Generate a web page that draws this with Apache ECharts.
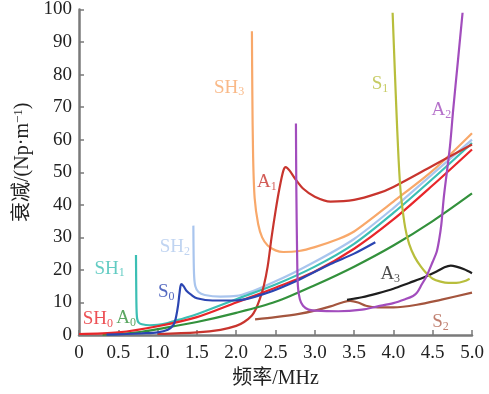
<!DOCTYPE html>
<html>
<head>
<meta charset="utf-8">
<script src="https://cdn.jsdelivr.net/npm/echarts@6/dist/echarts.min.js"></script>
<style>html,body{margin:0;padding:0;background:#fff}#c{width:489px;height:394px}</style>
</head>
<body>
<div id="c"></div>
<script>
// Frequency (MHz) / attenuation (Np/m) pairs for each guided-wave mode
var SH0 = [[0,0.3],[0.5,0.8],[1.0,2.7],[1.5,5.5],[2.0,10],[2.5,14.5],[3.0,19.5],[3.5,26.5],[4.0,35.5],[4.5,46],[5.0,57]];
var SH1 = [[0.725,24.6],[0.728,15],[0.732,8],[0.74,5],[0.76,3.8],[0.8,3.3],[0.9,3.0],[1.0,3.1],[1.1,3.5],[1.2,4.2],[1.4,5.6],[1.6,7.3],[2.0,11],[2.5,15.5],[3.0,21],[3.5,28],[4.0,37.5],[4.5,48],[5.0,59]];
var SH2 = [[1.455,33.6],[1.458,25],[1.465,18],[1.48,15],[1.52,13.2],[1.6,12.3],[1.8,11.8],[2.0,12],[2.5,16.5],[3.0,22.5],[3.5,29.5],[4.0,39],[4.5,49.5],[5.0,60]];
var SH3 = [[2.2,93.3],[2.205,75],[2.215,55],[2.235,42],[2.28,34],[2.33,30],[2.4,27.5],[2.5,26],[2.6,25.5],[2.8,25.8],[3.0,27],[3.3,29.5],[3.5,31.8],[4.0,41],[4.5,50.5],[5.0,62]];
var S0 = [[0.35,0.1],[0.6,0.3],[0.8,0.5],[1.0,0.8],[1.13,1.6],[1.2,3],[1.23,5],[1.26,9],[1.28,13],[1.3,15.6],[1.33,15],[1.37,13.5],[1.43,12.3],[1.5,11.3],[1.7,10.6],[2.0,10.6],[2.4,13],[2.8,17],[3.2,21.8],[3.5,25],[3.77,28.5]];
var A0 = [[0.3,0.1],[0.5,0.3],[0.8,1],[1.0,1.8],[1.5,4],[2.0,6.8],[2.5,10.2],[3.0,15.3],[3.5,21],[4.0,27.5],[4.5,35],[5.0,43.5]];
var A1 = [[1.0,0.3],[1.5,0.8],[1.8,1.6],[2.0,2.8],[2.1,4],[2.2,6],[2.25,8],[2.3,11],[2.35,15],[2.4,21],[2.45,30],[2.5,38],[2.55,45],[2.6,50.5],[2.63,51.6],[2.68,50.5],[2.75,48],[2.85,45],[3.0,42.5],[3.2,41],[3.5,41.5],[3.8,43.5],[4.0,45.5],[4.5,52],[5.0,58.5]];
var A2 = [[2.76,65],[2.765,45],[2.775,25],[2.785,15],[2.81,11],[2.85,9],[2.92,7.8],[3.0,7.5],[3.3,7.3],[3.6,7.8],[3.8,8.8],[4.0,9.8],[4.15,11],[4.25,12],[4.3,13],[4.36,15.5],[4.42,18],[4.5,22.5],[4.55,25.5],[4.58,29],[4.61,34],[4.64,42],[4.68,50],[4.72,58],[4.76,69],[4.82,84],[4.88,99]];
var S1 = [[3.99,99],[4.02,80],[4.04,68],[4.06,57],[4.08,48],[4.1,42],[4.15,33],[4.2,28],[4.27,24],[4.35,21],[4.42,19],[4.5,17.3],[4.6,16.4],[4.7,16],[4.8,16],[4.9,16.5],[4.97,17.3]];
var A3 = [[3.41,10.8],[3.6,11.6],[3.8,12.8],[4.0,14.2],[4.2,16],[4.4,17.8],[4.55,19.5],[4.65,20.8],[4.73,21.3],[4.8,21],[4.9,20.2],[5.0,19]];
var S2 = [[2.24,4.8],[2.5,5.5],[2.8,6.5],[3.0,7.5],[3.2,8.8],[3.35,10],[3.45,10.5],[3.55,10],[3.65,9],[3.8,8.5],[4.0,8.5],[4.3,9.3],[4.6,10.8],[5.0,13]];

// label names (base, subscript) and anchor positions in data coords
var labelNames = [['SH','3'],['A','1'],['S','1'],['A','2'],['SH','2'],['SH','1'],['S','0'],['SH','0'],['A','0'],['A','3'],['S','2']];
var labelPos = [[1.91,76],[2.39,47],[3.83,77],[4.61,69],[1.22,27],[0.39,20.4],[1.11,13.2],[0.24,4.8],[0.6,5.1],[3.96,18.6],[4.6,3.9]];

var xTicks = [0,0.5,1.0,1.5,2.0,2.5,3.0,3.5,4.0,4.5,5.0];

var colors = {
  SH0:'#e8262a', SH1:'#3cbfb4', SH2:'#a9c5ee', SH3:'#f8a86a', S0:'#2b45b2', A0:'#33913c',
  A1:'#c8352e', A2:'#a24dbd', S1:'#b8be3c', A3:'#1e1e1e', S2:'#a4553e'
};
var labelColors = ['#f8a86a','#c8352e','#b8be3c','#a24dbd','#b0c9ee','#3cbfb4','#2b45b2','#e8262a','#33913c','#1e1e1e','#b0604c'];

var FONT = "'Liberation Serif','Noto Sans CJK SC',serif";

function lineSeries(name, data, smooth) {
  return {
    name: name, type: 'line', data: data, showSymbol: false, symbol: 'none',
    smooth: smooth,
    lineStyle: { color: colors[name], width: 2.2 }, z: 2
  };
}

var labelData = labelNames.map(function (n, i) {
  return {
    value: labelPos[i],
    label: {
      show: true, position: 'inside',
      formatter: n[0] + '{s|' + n[1] + '}',
      color: labelColors[i], fontFamily: FONT, fontSize: 19,
      rich: { s: { fontSize: 12, fontFamily: FONT, color: labelColors[i], padding: [9, 0, 0, 0] } }
    }
  };
});

var chart = echarts.init(document.getElementById('c'), null, { renderer: 'canvas' });
chart.setOption({
  animation: false,
  backgroundColor: '#fff',
  grid: { left: 79, right: 17, top: 7, bottom: 54 },
  xAxis: {
    type: 'value', min: 0, max: 5, interval: 0.5,
    name: '频率/MHz', nameLocation: 'middle', nameGap: 34,
    nameTextStyle: { fontFamily: FONT, fontSize: 20, color: '#222' },
    axisLine: { lineStyle: { color: '#7a7a7a', width: 2.5 } },
    axisTick: { inside: true, length: 5, lineStyle: { color: '#7a7a7a', width: 1.5 } },
    axisLabel: {
      fontFamily: FONT, fontSize: 19, color: '#222', margin: 9,
      formatter: function (v) { var i = xTicks.indexOf(v); return v === 0 ? '0' : (i >= 0 ? xTicks[i].toFixed(1) : ''); }
    },
    splitLine: { show: false }
  },
  yAxis: {
    type: 'value', min: 0, max: 100, interval: 10,
    name: '衰减/(Np·m{sup|−1})', nameLocation: 'middle', nameGap: 42, nameRotate: 90,
    nameTextStyle: { fontFamily: FONT, fontSize: 20, color: '#222', padding: [0, 0, 0, 20],
      rich: { sup: { fontSize: 13, fontFamily: FONT, color: '#222', padding: [0, 0, 9, 0] } } },
    axisLine: { show: true, lineStyle: { color: '#7a7a7a', width: 2.5 } },
    axisTick: { show: true, inside: true, length: 5, lineStyle: { color: '#7a7a7a', width: 1.5 } },
    axisLabel: { fontFamily: FONT, fontSize: 19, color: '#222', margin: 7 },
    splitLine: { show: false }
  },
  series: [
    lineSeries('SH3', SH3, 0.3),
    lineSeries('SH2', SH2, 0.3),
    lineSeries('SH1', SH1, 0.3),
    lineSeries('A1', A1, 0.3),
    lineSeries('A0', A0, 0.3),
    lineSeries('SH0', SH0, 0.3),
    lineSeries('S0', S0, 0.3),
    lineSeries('S2', S2, 0.3),
    lineSeries('A3', A3, 0.3),
    lineSeries('S1', S1, 0.3),
    lineSeries('A2', A2, 0.3),
    {
      name: 'labels', type: 'scatter', symbolSize: 1, itemStyle: { color: 'rgba(0,0,0,0)' },
      data: labelData, z: 5, silent: true
    }
  ]
});
</script>
</body>
</html>
